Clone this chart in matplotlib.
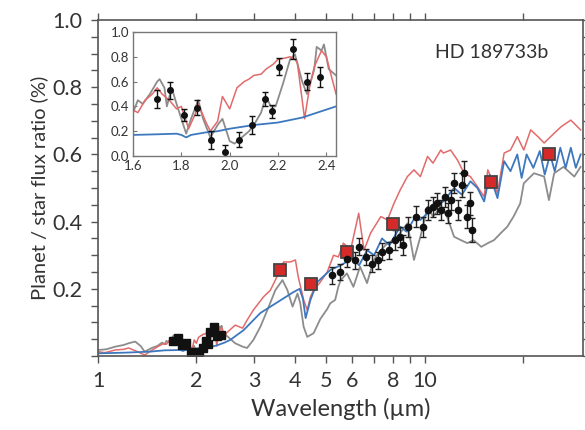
import numpy as np
import matplotlib.pyplot as plt
from matplotlib.ticker import FixedLocator, NullFormatter, MultipleLocator

plt.rcParams['font.family'] = ['Lato', 'DejaVu Sans']

# ---- near-IR spectrum (inset units, x0.1 on the main panel) ----
nir_wl = [1.698, 1.753, 1.812, 1.863, 1.924, 1.979, 2.037, 2.092, 2.148, 2.176,
          2.206, 2.261, 2.319, 2.374]
nir_fr = [0.46, 0.53, 0.33, 0.39, 0.13, 0.03, 0.13, 0.25, 0.46, 0.36,
          0.72, 0.86, 0.60, 0.64]
nir_err = [0.07, 0.07, 0.05, 0.06, 0.07, 0.06, 0.06, 0.07, 0.06, 0.05,
           0.07, 0.08, 0.07, 0.08]

# models over the inset range
ins_red_wl = [1.60, 1.62, 1.65, 1.68, 1.70, 1.72, 1.75, 1.78, 1.80, 1.83, 1.86, 1.87,
              1.90, 1.92, 1.95, 1.97, 2.00, 2.03, 2.06, 2.08, 2.10, 2.13, 2.15, 2.18,
              2.20, 2.23, 2.25, 2.27, 2.28, 2.31, 2.33, 2.35, 2.38, 2.40, 2.42, 2.44]
ins_red = [0.37, 0.35, 0.45, 0.50, 0.55, 0.50, 0.45, 0.38, 0.40, 0.22, 0.35, 0.42,
           0.28, 0.20, 0.28, 0.48, 0.38, 0.55, 0.60, 0.62, 0.65, 0.66, 0.70, 0.74,
           0.78, 0.79, 0.80, 0.78, 0.75, 0.30, 0.55, 0.72, 0.85, 0.80, 0.65, 0.50]
ins_gray_wl = [1.60, 1.62, 1.64, 1.67, 1.70, 1.71, 1.73, 1.74, 1.76, 1.78, 1.80, 1.82,
               1.84, 1.87, 1.89, 1.92, 1.95, 1.97, 2.00, 2.02, 2.05, 2.08, 2.10, 2.13,
               2.15, 2.17, 2.19, 2.22, 2.25, 2.27, 2.30, 2.32, 2.35, 2.36, 2.38, 2.39,
               2.41, 2.44]
ins_gray = [0.35, 0.45, 0.42, 0.50, 0.60, 0.62, 0.55, 0.40, 0.55, 0.42, 0.30, 0.18,
            0.30, 0.45, 0.30, 0.15, 0.25, 0.30, 0.12, 0.10, 0.15, 0.20, 0.25, 0.35,
            0.48, 0.40, 0.40, 0.58, 0.78, 0.82, 0.60, 0.50, 0.70, 0.88, 0.85, 0.90,
            0.70, 0.65]
ins_blue_wl = [1.60, 1.70, 1.78, 1.80, 1.82, 1.84, 1.90, 1.95, 2.00, 2.10, 2.20, 2.30, 2.44]
ins_blue = [0.17, 0.175, 0.18, 0.17, 0.15, 0.17, 0.19, 0.20, 0.22, 0.25, 0.27, 0.31, 0.40]

# models outside the inset range, flux ratio in %
red_short_wl = [1.0, 1.05, 1.13, 1.2, 1.24, 1.3, 1.39, 1.45, 1.5, 1.57]
red_short = [0.013, 0.010, 0.018, 0.020, 0.024, 0.016, 0.003, 0.015, 0.024, 0.035]
red_long_wl = [2.47, 2.63, 2.77, 2.86, 2.99, 3.21, 3.37, 3.49, 3.70, 3.88, 4.02, 4.10,
               4.26, 4.37, 4.47, 4.57, 4.79, 5.03, 5.26, 5.44, 5.64, 5.93, 6.28, 6.52,
               6.83, 7.34, 7.69, 8.05, 8.41, 8.85, 9.27, 9.70, 10.2, 10.6, 11.2, 11.4,
               12.0, 12.6, 13.2, 13.8, 14.5, 15.2, 15.6, 16.7, 17.5, 18.3, 19.2, 20.1,
               21.1, 22.2, 23.2, 24.9, 26.2, 28.0, 30.0]
red_long = [0.068, 0.092, 0.083, 0.107, 0.137, 0.176, 0.196, 0.226, 0.280, 0.280, 0.286,
            0.236, 0.167, 0.137, 0.176, 0.196, 0.220, 0.250, 0.300, 0.295, 0.336, 0.315,
            0.425, 0.315, 0.366, 0.415, 0.405, 0.454, 0.494, 0.534, 0.554, 0.534, 0.594,
            0.574, 0.613, 0.604, 0.613, 0.583, 0.544, 0.534, 0.504, 0.474, 0.554, 0.485,
            0.604, 0.613, 0.653, 0.613, 0.673, 0.653, 0.634, 0.663, 0.683, 0.702, 0.673]

gray_short_wl = [1.0, 1.06, 1.13, 1.2, 1.24, 1.30, 1.35, 1.39, 1.46, 1.52, 1.57]
gray_short = [0.018, 0.020, 0.028, 0.033, 0.038, 0.043, 0.030, 0.013, 0.024, 0.030, 0.040]
gray_long_wl = [2.50, 2.63, 2.77, 2.86, 2.99, 3.14, 3.30, 3.49, 3.67, 3.80, 3.94, 4.08,
                4.16, 4.26, 4.37, 4.57, 4.79, 5.03, 5.14, 5.32, 5.44, 5.53, 5.78, 6.05,
                6.34, 6.66, 6.98, 7.34, 7.69, 8.05, 8.41, 8.85, 9.27, 9.70, 10.2, 10.6,
                11.2, 11.7, 12.3, 12.9, 13.5, 14.1, 14.9, 15.6, 16.3, 17.1, 17.9, 18.7,
                19.6, 20.1, 21.6, 23.2, 24.0, 24.9, 26.6, 28.7, 30.0]
gray_long = [0.057, 0.038, 0.028, 0.024, 0.048, 0.087, 0.137, 0.196, 0.226, 0.196, 0.147,
             0.186, 0.157, 0.087, 0.057, 0.068, 0.110, 0.140, 0.157, 0.167, 0.206, 0.226,
             0.246, 0.206, 0.266, 0.217, 0.286, 0.315, 0.336, 0.345, 0.366, 0.395, 0.286,
             0.355, 0.444, 0.415, 0.444, 0.415, 0.355, 0.345, 0.336, 0.345, 0.325, 0.336,
             0.345, 0.366, 0.385, 0.415, 0.454, 0.514, 0.544, 0.534, 0.464, 0.544, 0.563,
             0.534, 0.563]

blue_short_wl = [1.0, 1.2, 1.44]
blue_short = [0.008, 0.010, 0.013]
blue_long_wl = [2.54, 2.79, 3.14, 3.54, 3.96, 4.14, 4.24, 4.32, 4.47, 4.69, 5.14, 5.53,
                6.00, 6.30, 6.66, 7.00, 7.40, 7.80, 8.41, 8.80, 9.30, 9.70, 10.6, 11.4,
                12.3, 13.0, 13.8, 14.5, 15.2, 15.8, 16.7, 17.5, 18.3, 19.2, 19.8, 20.5,
                21.5, 22.5, 23.3, 24.2, 25.0, 26.0, 27.0, 28.0, 29.0, 30.0]
blue_long = [0.048, 0.077, 0.128, 0.160, 0.190, 0.200, 0.170, 0.113, 0.167, 0.220, 0.256,
             0.270, 0.290, 0.270, 0.315, 0.300, 0.350, 0.330, 0.385, 0.370, 0.410, 0.405,
             0.440, 0.460, 0.500, 0.480, 0.520, 0.500, 0.460, 0.540, 0.470, 0.580, 0.550,
             0.600, 0.530, 0.600, 0.560, 0.610, 0.540, 0.600, 0.550, 0.620, 0.560, 0.620,
             0.560, 0.600]

# Spitzer IRS spectrum
irs_wl = [5.2, 5.5, 5.8, 6.1, 6.3, 6.6, 6.9, 7.2, 7.4, 7.8, 8.1, 8.4, 8.6, 8.9, 9.4,
          9.9, 10.2, 10.6, 10.9, 11.2, 11.5, 11.8, 12.0, 12.3, 12.6, 13.0, 13.2, 13.5,
          13.8, 14.0]
irs_fr = [0.240, 0.250, 0.290, 0.285, 0.325, 0.295, 0.275, 0.285, 0.310, 0.315, 0.345,
          0.355, 0.330, 0.385, 0.415, 0.385, 0.435, 0.444, 0.454, 0.435, 0.474, 0.425,
          0.464, 0.514, 0.435, 0.509, 0.544, 0.415, 0.454, 0.375]
irs_err = [0.025, 0.025, 0.025, 0.025, 0.025, 0.025, 0.025, 0.025, 0.025, 0.025, 0.03,
           0.03, 0.03, 0.03, 0.03, 0.03, 0.03, 0.03, 0.03, 0.03, 0.03, 0.03, 0.03,
           0.03, 0.03, 0.035, 0.035, 0.035, 0.035, 0.035]

# broadband photometry
phot_wl = [3.6, 4.5, 5.8, 8.0, 16.0, 24.0]
phot_fr = [0.256, 0.213, 0.310, 0.392, 0.519, 0.601]

RED = '#e36a6a'
GRAY = '#8c8c8c'
BLUE = '#3d78bf'
TXT = '#333333'


def join(short_wl, short, ins_wl, ins, long_wl, long):
    wl = list(short_wl) + list(ins_wl) + list(long_wl)
    fr = list(short) + [v * 0.1 for v in ins] + list(long)
    return wl, fr


fig = plt.figure(figsize=(5.85, 4.3), dpi=100)
ax = fig.add_axes([0.1675, 0.172, 0.829, 0.7815])

wl, fr = join(gray_short_wl, gray_short, ins_gray_wl, ins_gray, gray_long_wl, gray_long)
ax.plot(wl, fr, color=GRAY, lw=1.3)
wl, fr = join(red_short_wl, red_short, ins_red_wl, ins_red, red_long_wl, red_long)
ax.plot(wl, fr, color=RED, lw=1.1)
wl, fr = join(blue_short_wl, blue_short, ins_blue_wl, ins_blue, blue_long_wl, blue_long)
ax.plot(wl, fr, color=BLUE, lw=1.3)

ax.errorbar(nir_wl, [v * 0.1 for v in nir_fr], yerr=[e * 0.1 for e in nir_err],
            fmt='s', ms=6, color='#111111', ecolor='#111111', elinewidth=1, capsize=0)
ax.errorbar(irs_wl, irs_fr, yerr=irs_err, fmt='o', ms=4.5, color='#111111',
            ecolor='#222222', elinewidth=1, capsize=2.5, capthick=1)
ax.plot(phot_wl, phot_fr, 's', ms=8, mfc='#d42a2a', mec='#444444', mew=1.3)

ax.set_xscale('log')
ax.set_xlim(1, 30.5)
ax.set_ylim(0, 1.0)
ax.xaxis.set_major_locator(FixedLocator([1, 2, 3, 4, 5, 6, 8, 10]))
ax.xaxis.set_minor_locator(FixedLocator([7, 9, 20]))
ax.set_xticklabels(['1', '2', '3', '4', '5', '6', '8', '10'])
ax.xaxis.set_minor_formatter(NullFormatter())
ax.set_yticks([0.2, 0.4, 0.6, 0.8, 1.0])
ax.set_yticklabels(['0.2', '0.4', '0.6', '0.8', '1.0'])
ax.yaxis.set_minor_locator(MultipleLocator(0.05))
ax.tick_params(which='both', direction='out', length=5, width=1, color='#555555',
               labelsize=15.5, labelcolor=TXT, top=True, pad=6)
ax.tick_params(axis='y', which='both', right=True)
for s in ax.spines.values():
    s.set_color('#555555')
    s.set_linewidth(1.2)

ax.set_xlabel('Wavelength (\u00b5m)', fontsize=17, color=TXT, labelpad=5)
ax.set_ylabel('Planet / star flux ratio (%)', fontsize=14.5, color=TXT, labelpad=3)
ax.text(0.812, 0.902, 'HD 189733b', transform=ax.transAxes, ha='center', va='center',
        fontsize=14, color=TXT)

# inset: near-IR close-up
ins = fig.add_axes([0.2274, 0.6372, 0.347, 0.2884])
ins.plot(ins_gray_wl, ins_gray, color=GRAY, lw=1.3)
ins.plot(ins_red_wl, ins_red, color=RED, lw=1.1)
ins.plot(ins_blue_wl, ins_blue, color=BLUE, lw=1.3)
ins.errorbar(nir_wl, nir_fr, yerr=nir_err, fmt='o', ms=4, color='#111111',
             ecolor='#111111', elinewidth=1, capsize=2.5, capthick=1)
ins.set_xlim(1.6, 2.44)
ins.set_ylim(0, 1.0)
ins.set_xticks([1.6, 1.8, 2.0, 2.2, 2.4])
ins.set_xticklabels(['1.6', '1.8', '2.0', '2.2', '2.4'])
ins.set_yticks([0.0, 0.2, 0.4, 0.6, 0.8, 1.0])
ins.set_yticklabels(['0.0', '0.2', '0.4', '0.6', '0.8', '1.0'])
ins.tick_params(direction='in', length=3, width=0.8, color='#777777', labelsize=9.5,
                labelcolor=TXT, pad=3)
for s in ins.spines.values():
    s.set_color('#777777')
    s.set_linewidth(1.0)

fig.savefig('out.png', dpi=100)
